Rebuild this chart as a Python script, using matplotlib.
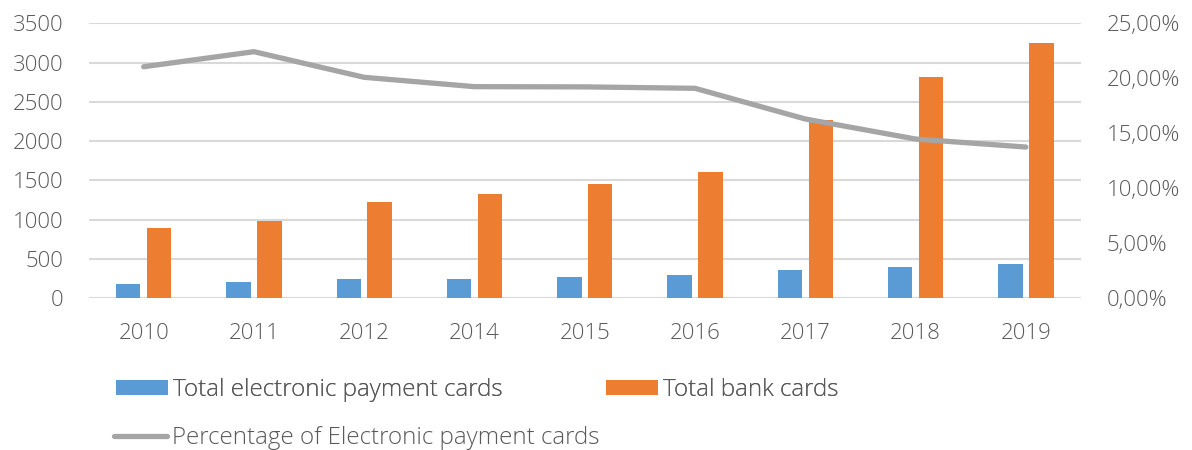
import matplotlib
matplotlib.use("Agg")
import matplotlib.pyplot as plt
import numpy as np
from matplotlib.patches import Patch
from matplotlib.lines import Line2D
from matplotlib.ticker import FuncFormatter

years = ["2010", "2011", "2012", "2014", "2015", "2016", "2017", "2018", "2019"]
electronic_cards = [178, 211, 242, 246, 275, 297, 356, 398, 433]
bank_cards = [895, 988, 1226, 1332, 1459, 1604, 2270, 2817, 3246]
pct_electronic = [21.05, 22.42, 20.09, 19.24, 19.22, 19.09, 16.30, 14.48, 13.75]

BLUE = "#5B9BD5"
ORANGE = "#ED7D31"
GRAY = "#A5A5A5"
TXT = "#595959"
GRID = "#D9D9D9"

plt.rcParams['font.family'] = ['Open Sans', 'DejaVu Sans']

fig = plt.figure(figsize=(11.92, 4.5), dpi=100)
ax = fig.add_axes([88.5/1192, 1 - 298.3/450, (1081 - 88.5)/1192, (298.3 - 23.3)/450])
ax2 = ax.twinx()

x = np.arange(len(years))
w = 0.222
off = 0.14
ax.bar(x - off, electronic_cards, width=w, color=BLUE, zorder=2)
ax.bar(x + off, bank_cards, width=w, color=ORANGE, zorder=2)

ax.set_xlim(-0.5, len(years) - 0.5)
ax.set_ylim(0, 3500)
ax.set_yticks(np.arange(0, 3501, 500))
ax.grid(axis='y', color=GRID, linewidth=1.5, zorder=0)
ax.set_axisbelow(True)
ax.set_xticks(x)
ax.set_xticklabels(years)

ax2.plot(x, pct_electronic, color=GRAY, linewidth=3.8, solid_capstyle='round', solid_joinstyle='round', zorder=3)
ax2.set_ylim(0, 25)
ax2.set_yticks(np.arange(0, 25.01, 5))
ax2.yaxis.set_major_formatter(FuncFormatter(lambda v, p: f"{v:.2f}".replace('.', ',') + "%"))

for a in (ax, ax2):
    for s in a.spines.values():
        s.set_visible(False)
    a.tick_params(length=0, labelsize=16, colors=TXT)
    for lab in a.get_xticklabels() + a.get_yticklabels():
        lab.set_fontweight('light')
ax.tick_params(axis='x', pad=18)
ax.tick_params(axis='y', pad=18)
ax2.tick_params(axis='y', pad=18.5)

h_a = Patch(facecolor=BLUE, edgecolor='none')
h_b = Patch(facecolor=ORANGE, edgecolor='none')
h_c = Line2D([], [], color=GRAY, linewidth=3.8, solid_capstyle='round')

legfont = {'family': ['Open Sans', 'DejaVu Sans'], 'size': 17.4, 'weight': 'light'}
leg1 = fig.legend([h_a, h_b], ["Total electronic payment cards", "Total bank cards"],
                  loc='center left', bbox_to_anchor=(116/1192, 1 - 390/450), ncol=2,
                  frameon=False, prop=legfont, labelcolor=TXT, handlelength=2.15,
                  handleheight=0.58, handletextpad=0.2, columnspacing=4.3, borderaxespad=0, borderpad=0)
fig.add_artist(leg1)
leg2 = fig.legend([h_c], ["Percentage of Electronic payment cards"],
                  loc='center left', bbox_to_anchor=(114/1192, 1 - 438/450),
                  frameon=False, prop=legfont, labelcolor=TXT, handlelength=2.2,
                  handletextpad=0.2, borderaxespad=0, borderpad=0)

fig.savefig("out.png", dpi=100, facecolor='white')
